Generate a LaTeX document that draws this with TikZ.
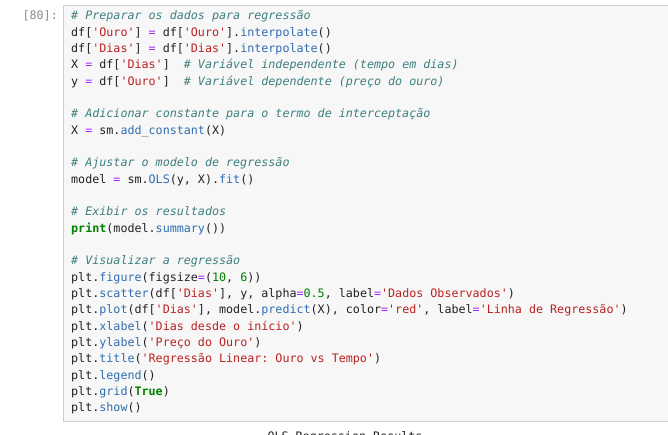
\documentclass[tikz,border=0pt]{standalone}
\usepackage{fontspec}
\setmonofont{DejaVu Sans Mono}
\definecolor{cmt}{HTML}{3D7F7F}
\definecolor{str}{HTML}{BA2121}
\definecolor{fnc}{HTML}{2F6DB0}
\definecolor{opc}{HTML}{AA22FF}
\definecolor{num}{HTML}{008000}
\definecolor{txt}{HTML}{212121}
\newcommand{\cm}[1]{{\color{cmt}\itshape #1}}
\newcommand{\st}[1]{{\color{str}#1}}
\newcommand{\fn}[1]{{\color{fnc}#1}}
\newcommand{\op}{{\color{opc}=}}
\newcommand{\nm}[1]{{\color{num}#1}}
\newcommand{\kw}[1]{{\color{num}\bfseries #1}}
\begin{document}
\begin{tikzpicture}[x=1pt,y=-1pt,
  codeline/.style={anchor=base west,inner sep=0pt,font=\ttfamily\fontsize{11.7}{14}\selectfont,text=txt}]
\useasboundingbox (0,0) rectangle (668,435);
\fill[white] (0,0) rectangle (668,435);
\filldraw[fill=black!3,draw=black!19] (63.5,5.5) rectangle (670,421.5);
\node[anchor=base east,inner sep=0pt,font=\ttfamily\fontsize{11.7}{14}\selectfont,text=black!45] (prompt) at (58,20) {[80]:};
\foreach \i/\t in {
0/{\cm{\# Preparar os dados para regressão}},
1/{df[\st{'Ouro'}] \op{} df[\st{'Ouro'}].\fn{interpolate}()},
2/{df[\st{'Dias'}] \op{} df[\st{'Dias'}].\fn{interpolate}()},
3/{X \op{} df[\st{'Dias'}]\ \ \cm{\# Variável independente (tempo em dias)}},
4/{y \op{} df[\st{'Ouro'}]\ \ \cm{\# Variável dependente (preço do ouro)}},
6/{\cm{\# Adicionar constante para o termo de interceptação}},
7/{X \op{} sm.\fn{add\_constant}(X)},
9/{\cm{\# Ajustar o modelo de regressão}},
10/{model \op{} sm.\fn{OLS}(y, X).\fn{fit}()},
12/{\cm{\# Exibir os resultados}},
13/{\kw{print}(model.\fn{summary}())},
15/{\cm{\# Visualizar a regressão}},
16/{plt.\fn{figure}(figsize\op(\nm{10}, \nm{6}))},
17/{plt.\fn{scatter}(df[\st{'Dias'}], y, alpha\op\nm{0.5}, label\op\st{'Dados Observados'})},
18/{plt.\fn{plot}(df[\st{'Dias'}], model.\fn{predict}(X), color\op\st{'red'}, label\op\st{'Linha de Regressão'})},
19/{plt.\fn{xlabel}(\st{'Dias desde o início'})},
20/{plt.\fn{ylabel}(\st{'Preço do Ouro'})},
21/{plt.\fn{title}(\st{'Regressão Linear: Ouro vs Tempo'})},
22/{plt.\fn{legend}()},
23/{plt.\fn{grid}(\kw{True})},
24/{plt.\fn{show}()}}
  \node[codeline] (l\i) at (71,{20+16.33*\i}) {\t};
\begin{scope}
\clip (0,0) rectangle (668,435);
\node[anchor=base,inner sep=0pt,font=\ttfamily\fontsize{11.7}{14}\selectfont,text=txt] (ols) at (345,440) {OLS Regression Results};
\end{scope}
\end{tikzpicture}
\end{document}
